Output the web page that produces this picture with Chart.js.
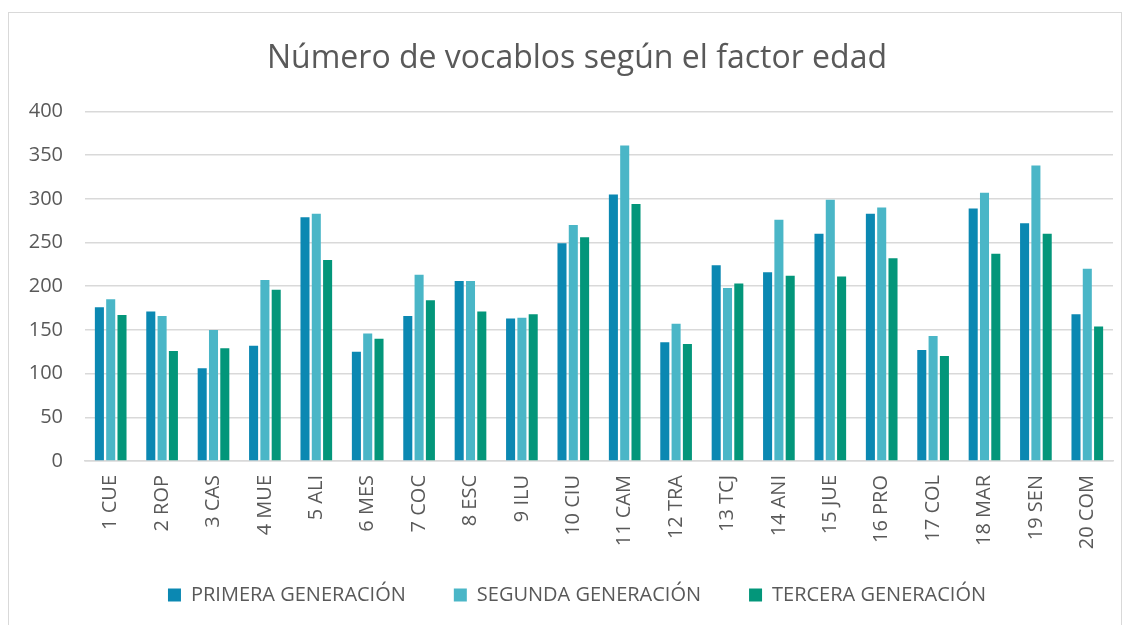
<!DOCTYPE html>
<html>
<head>
<meta charset="utf-8">
<script src="https://cdn.jsdelivr.net/npm/chart.js@4"></script>
<style>
  html, body { margin: 0; padding: 0; background: #fff; overflow: hidden; }
  .frame { position: absolute; left: 8px; top: 12px; width: 1112px; height: 640px; border: 1px solid #d9d9d9; }
  .chartContainer { position: absolute; left: 9px; top: 13px; width: 1136px; height: 602px; }
</style>
</head>
<body>
<div class="frame"></div>
<div class="chartContainer"><canvas id="vocabChart"></canvas></div>
<script>
const categorias = ['1 CUE', '2 ROP', '3 CAS', '4 MUE', '5 ALI', '6 MES', '7 COC', '8 ESC', '9 ILU', '10 CIU',
    '11 CAM', '12 TRA', '13 TCJ', '14 ANI', '15 JUE', '16 PRO', '17 COL', '18 MAR', '19 SEN', '20 COM'];

const primera = [176, 171, 106, 132, 279, 125, 166, 206, 163, 249, 305, 136, 224, 216, 260, 283, 127, 289, 272, 168];
const segunda = [185, 166, 150, 207, 283, 146, 213, 206, 164, 270, 361, 157, 198, 276, 299, 290, 143, 307, 338, 220];
const tercera = [167, 126, 129, 196, 230, 140, 184, 171, 168, 256, 294, 134, 203, 212, 211, 232, 120, 237, 260, 154];

const COLORES = {
    primera: '#0B88B2',
    segunda: '#4AB6C7',
    tercera: '#03967A'
};

const textColor = '#595959';
const gridColor = '#d9d9d9';
const fontName = "'Open Sans'";

const config = {
    type: 'bar',
    data: {
        labels: categorias,
        datasets: [
            { label: 'PRIMERA GENERACIÓN', data: primera, backgroundColor: COLORES.primera },
            { label: 'SEGUNDA GENERACIÓN', data: segunda, backgroundColor: COLORES.segunda },
            { label: 'TERCERA GENERACIÓN', data: tercera, backgroundColor: COLORES.tercera }
        ]
    },
    options: {
        responsive: true,
        maintainAspectRatio: false,
        animation: false,
        datasets: {
            bar: { categoryPercentage: 0.66, barPercentage: 0.8 }
        },
        layout: { padding: 0 },
        scales: {
            x: {
                grid: { display: false, drawTicks: false },
                border: { color: gridColor, width: 1.5 },
                ticks: {
                    color: textColor,
                    font: { family: fontName, size: 20 },
                    minRotation: 90,
                    maxRotation: 90,
                    padding: 14,
                    autoSkip: false
                },
                afterFit(s) {
                    s.height = 76;
                    // labels run into the legend's padding, so don't clip them to the axis box
                    s._computeLabelArea = () => undefined;
                }
            },
            y: {
                min: 0,
                max: 400,
                grid: { color: gridColor, lineWidth: 1.5, drawTicks: false },
                border: { display: false },
                ticks: {
                    stepSize: 50,
                    color: textColor,
                    font: { family: fontName, size: 20 },
                    padding: 22
                },
                afterFit(s) { s.width = 76; }
            },
            relleno: {
                position: 'right',
                display: true,
                grid: { display: false, drawTicks: false },
                border: { display: false },
                ticks: { display: false },
                afterFit(s) { s.width = 32; }
            }
        },
        plugins: {
            title: {
                display: true,
                text: 'Número de vocablos según el factor edad',
                color: textColor,
                font: { family: fontName, size: 32, weight: 'normal' },
                padding: { top: 27, bottom: 33 }
            },
            legend: {
                position: 'bottom',
                labels: {
                    color: textColor,
                    font: { family: fontName, size: 20 },
                    boxWidth: 13,
                    boxHeight: 13,
                    padding: 48
                }
            },
            tooltip: { enabled: false }
        }
    }
};

const vocabChart = new Chart(document.getElementById('vocabChart'), config);
</script>
</body>
</html>
